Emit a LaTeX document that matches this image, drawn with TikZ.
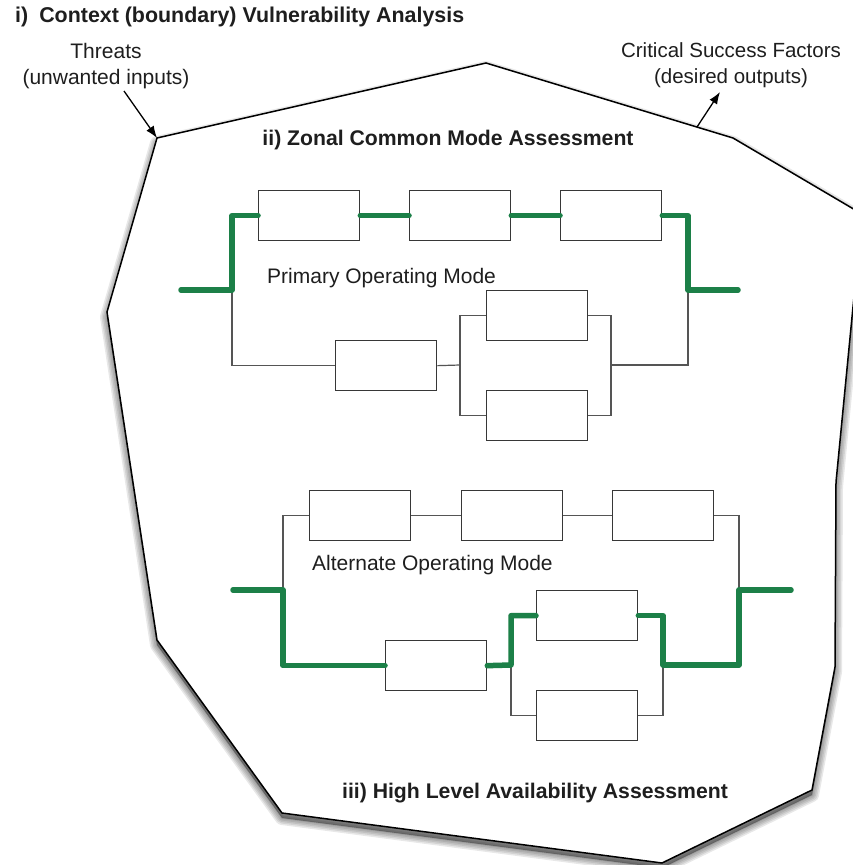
\documentclass[tikz,border=0pt]{standalone}
\usepackage{fontspec}
\setmainfont{Liberation Sans}
\usetikzlibrary{arrows.meta}
\definecolor{pathgreen}{RGB}{28,128,72}
\definecolor{boxgray}{RGB}{55,55,55}
\definecolor{wiregray}{RGB}{85,85,85}
\definecolor{txt}{RGB}{30,30,30}
\begin{document}
\begin{tikzpicture}[x=1pt,y=-1pt,
  blk/.style={draw=boxgray, line width=1.3pt, fill=white, minimum width=101pt,
    minimum height=50pt, inner sep=0pt, anchor=north west},
  wire/.style={draw=wiregray, line width=1.2pt},
  hot/.style={draw=pathgreen, line width=5.5pt, line cap=round, line join=round},
  boundary/.style={draw=black, line width=1.5pt, fill=white, line join=miter},
  shade/.style={fill=black, draw=black, opacity=0.09, line join=round},
  shd/.style={shift={(0,5)}},
  lbl/.style={text=txt, inner sep=0pt, font=\fontsize{20.5}{25}\selectfont},
  modelbl/.style={text=txt, inner sep=0pt, anchor=west, font=\fontsize{21}{25}\selectfont},
  head/.style={text=txt, inner sep=0pt, font=\fontsize{21.2}{25}\selectfont\bfseries},
  arr/.style={draw=black, line width=1.3pt, -{Latex[length=12pt,width=9pt]}}]
\useasboundingbox (0,0) rectangle (853,865);
\clip (0,0) rectangle (853,865);
% boundary polygon
\coordinate (v1) at (157,138);
\coordinate (v2) at (486,63);
\coordinate (v3) at (733,138);
\coordinate (v4) at (862,214);
\coordinate (v5) at (836,482);
\coordinate (v6) at (835,667);
\coordinate (v7) at (812,790);
\coordinate (v8) at (662,863);
\coordinate (v9) at (282,813);
\coordinate (v10) at (157,640);
\coordinate (v11) at (107,312);
\foreach \w in {14,11,8,5,2}{
  \path[shade, line width=\w pt] ([shd]v1) -- ([shd]v2) -- ([shd]v3) -- ([shd]v4) -- ([shd]v5) -- ([shd]v6) -- ([shd]v7) -- ([shd]v8) -- ([shd]v9) -- ([shd]v10) -- ([shd]v11) -- cycle;
}
\path[boundary] (v1) -- (v2) -- (v3) -- (v4) -- (v5) -- (v6) -- (v7) -- (v8) -- (v9) -- (v10) -- (v11) -- cycle;
% headings and labels
\node[head, anchor=west, font=\fontsize{21.4}{25}\selectfont\bfseries] (title) at (15,17) {i)\hspace{11pt}Context (boundary) Vulnerability Analysis};
\node[lbl, align=center, font=\fontsize{21}{26}\selectfont] (threats) at (106,66) {Threats\\(unwanted inputs)};
\node[lbl, align=center, font=\fontsize{20.5}{26}\selectfont] (csf) at (731,65) {Critical Success Factors\\(desired outputs)};
\node[head] (zonal) at (448,140) {ii) Zonal Common Mode Assessment};
\node[head] (avail) at (535,793) {iii) High Level Availability Assessment};
\coordinate (thr0) at (124,91);
\coordinate (csf0) at (697,127);
\coordinate (csf1) at (720,92);
\draw[arr] (thr0) -- (v1);
\draw[arr] (csf0) -- (csf1);
% primary operating mode
\node[blk] (p1) at (258,190) {};
\node[blk] (p2) at (409,190) {};
\node[blk] (p3) at (560,190) {};
\node[blk] (p4) at (335,340) {};
\node[blk] (p5) at (486,290) {};
\node[blk] (p6) at (486,390) {};
\node[modelbl] (plabel) at (267,278) {Primary Operating Mode};
\coordinate (pin) at (181,290);
\coordinate (pl) at (232,290);
\coordinate (pr) at (688,290);
\coordinate (pout) at (738,290);
\coordinate (psl) at (460,365);
\coordinate (psr) at (611,365);
\draw[wire] (pl) |- (p4.west);
\draw[wire] (p4.east) -- (psl);
\draw[wire] (psl) |- (p5.west);
\draw[wire] (psl) |- (p6.west);
\draw[wire] (p5.east) -| (psr);
\draw[wire] (p6.east) -| (psr);
\draw[wire] (psr) -| (pr);
\draw[hot] (pin) -- (pl) |- (p1.west);
\draw[hot] (p1.east) -- (p2.west);
\draw[hot] (p2.east) -- (p3.west);
\draw[hot] (p3.east) -| (pr) -- (pout);
% alternate operating mode
\node[blk] (a1) at (309,490) {};
\node[blk] (a2) at (461,490) {};
\node[blk] (a3) at (612,490) {};
\node[blk] (a4) at (385,640) {};
\node[blk] (a5) at (536,590) {};
\node[blk] (a6) at (536,690) {};
\node[modelbl] (alabel) at (312,565) {Alternate Operating Mode};
\coordinate (ain) at (233,590);
\coordinate (al) at (283,590);
\coordinate (ar) at (739,590);
\coordinate (aout) at (791,590);
\coordinate (asl) at (511,665);
\coordinate (asr) at (663,665);
\draw[wire] (al) |- (a1.west);
\draw[wire] (a1.east) -- (a2.west);
\draw[wire] (a2.east) -- (a3.west);
\draw[wire] (a3.east) -| (ar);
\draw[wire] (asl) |- (a6.west);
\draw[wire] (a6.east) -| (asr);
\draw[hot] (ain) -- (al) |- (a4.west);
\draw[hot] (a4.east) -- (asl) |- (a5.west);
\draw[hot] (a5.east) -| (asr) -| (ar) -- (aout);
\end{tikzpicture}
\end{document}
